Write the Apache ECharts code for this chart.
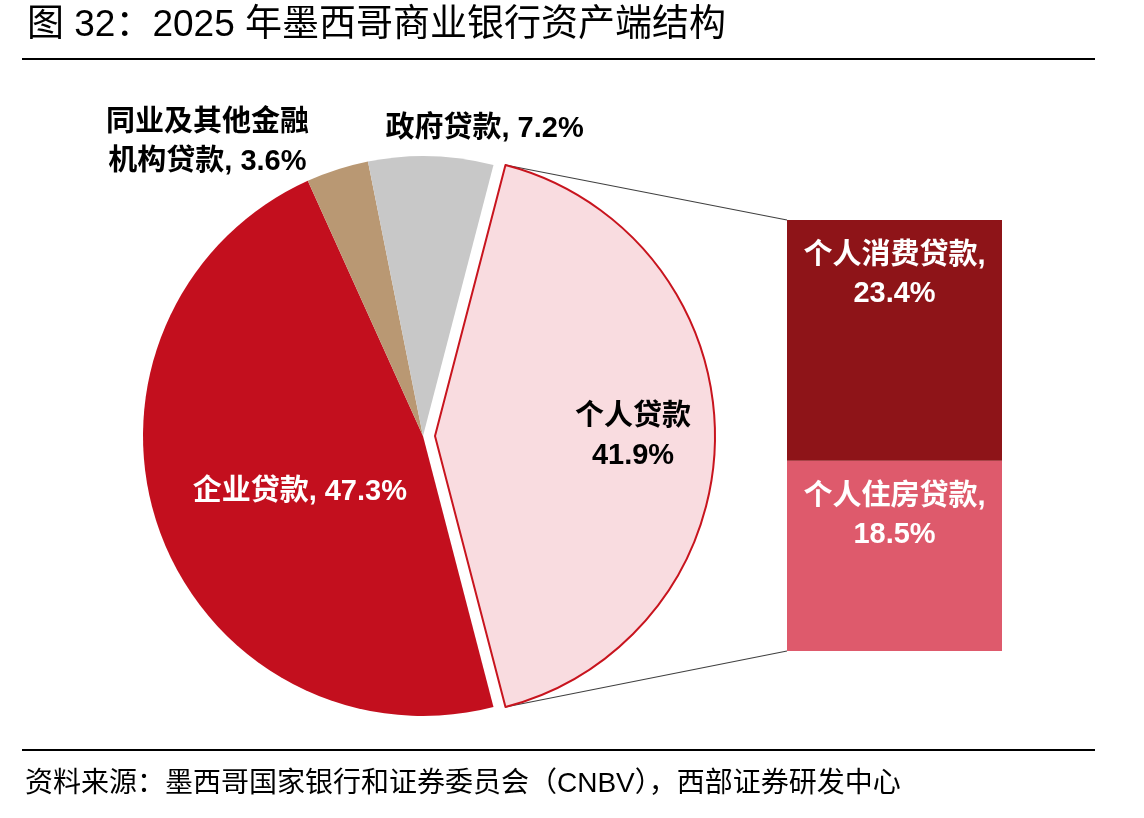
<!DOCTYPE html>
<html><head><meta charset="utf-8">
<script src="https://cdn.jsdelivr.net/npm/echarts@6/dist/echarts.min.js"></script>
<style>html,body{margin:0;padding:0;background:#fff}#c{width:1144px;height:818px}</style>
</head><body><div id="c"></div>
<script>
// ---- data ----
const pieNames = ['个人贷款', '企业贷款', '同业及其他金融机构贷款', '政府贷款'];
const pieValues = [41.9, 47.3, 3.6, 7.2];
const pieLabels = ['个人贷款\n41.9%', '企业贷款, 47.3%', '同业及其他金融\n机构贷款, 3.6%', '政府贷款, 7.2%'];
const barNames = ['个人住房贷款', '个人消费贷款'];
const barValues = [18.5, 23.4];
const barLabels = ['个人住房贷款,\n18.5%', '个人消费贷款,\n23.4%'];
const titleText = '图 32：2025 年墨西哥商业银行资产端结构';
const sourceText = '资料来源：墨西哥国家银行和证券委员会（CNBV），西部证券研发中心';

// ---- layout / style ----
const FONT = "'Liberation Sans','Noto Sans CJK SC',sans-serif";
const CX = 423, CY = 436, R = 280, OFF = 12;
const G = {left: 787, top: 220, width: 215, height: 431};
const pieColors = ['#f9dce0', '#c30f1e', '#b99873', '#c8c8c8'];
const barColors = ['#de5a6c', '#8e1418'];
const labelColors = ['#000', '#fff', '#000', '#000'];
const LFS = 29;

const total = pieValues.reduce((a, b) => a + b, 0);
const startAngle = pieValues[0] / total * 180;
const barTotal = barValues.reduce((a, b) => a + b, 0);

// label anchor positions (relative to pie centre / radius)
const labelPos = [
  [CX + 0.75 * R, CY + 0.003 * R],
  [CX - 0.44 * R, CY + 0.2 * R],
  [CX - 0.77 * R, CY - 1.05 * R],
  [CX + 0.22 * R, CY - 1.095 * R]
];

const chart = echarts.init(document.getElementById('c'), null, {renderer: 'canvas'});

function pieSeries(explodedPart) {
  // explodedPart: true -> only the first slice (shifted); false -> the rest
  return {
    type: 'pie',
    center: explodedPart ? [CX + OFF, CY] : [CX, CY],
    radius: [0, R],
    startAngle: startAngle,
    clockwise: true,
    silent: true,
    emphasis: {disabled: true},
    label: {show: true, position: 'inside', fontFamily: FONT, fontSize: LFS,
      fontWeight: 'bold', lineHeight: 39, align: 'center'},
    labelLine: {show: false},
    labelLayout: function (p) {
      const q = labelPos[p.dataIndex];
      return {x: q[0], y: q[1], align: 'center', verticalAlign: 'middle'};
    },
    data: pieValues.map((v, i) => {
      const visible = explodedPart ? i === 0 : i !== 0;
      return {
        name: pieNames[i],
        value: v,
        itemStyle: visible
          ? (i === 0 ? {color: pieColors[i], borderColor: '#c8141e', borderWidth: 2}
                     : {color: pieColors[i], borderWidth: 0})
          : {color: 'rgba(0,0,0,0)', borderWidth: 0},
        label: visible ? {formatter: pieLabels[i], color: labelColors[i]} : {show: false}
      };
    })
  };
}

chart.setOption({
  animation: false,
  title: [
    {text: titleText, left: 22, top: 2,
      textStyle: {fontFamily: FONT, fontSize: 37, fontWeight: 'normal', color: '#000'}},
    {text: sourceText, left: 20, top: 765,
      textStyle: {fontFamily: FONT, fontSize: 28, fontWeight: 'normal', color: '#000'}}
  ],
  grid: {left: G.left, top: G.top, width: G.width, height: G.height, containLabel: false},
  xAxis: {type: 'category', data: ['个人贷款'], show: false},
  yAxis: {type: 'value', min: 0, max: barTotal, show: false},
  series: [
    pieSeries(false),
    pieSeries(true),
    ...barValues.map((v, i) => ({
      type: 'bar',
      name: barNames[i],
      stack: 'p',
      barWidth: '100%',
      data: [v],
      itemStyle: {color: barColors[i]},
      emphasis: {disabled: true},
      label: {show: true, position: 'insideTop', distance: 17, formatter: barLabels[i],
        color: '#fff', fontFamily: FONT, fontSize: LFS, fontWeight: 'bold', lineHeight: 38}
    }))
  ]
});

// connector lines and rules
const a = startAngle * Math.PI / 180;
const px = CX + OFF + R * Math.cos(a);
const pyTop = CY - R * Math.sin(a);
const pyBot = CY + R * Math.sin(a);
const yTop = chart.convertToPixel({gridIndex: 0}, [0, barTotal])[1];
const yBot = chart.convertToPixel({gridIndex: 0}, [0, 0])[1];
chart.setOption({
  graphic: [
    {type: 'line', shape: {x1: px, y1: pyTop, x2: G.left, y2: yTop}, style: {stroke: '#404040', lineWidth: 1.2}, z: 0},
    {type: 'line', shape: {x1: px, y1: pyBot, x2: G.left, y2: yBot}, style: {stroke: '#404040', lineWidth: 1.2}, z: 0},
    {type: 'line', shape: {x1: 22, y1: 59, x2: 1095, y2: 59}, style: {stroke: '#000', lineWidth: 2}},
    {type: 'line', shape: {x1: 22, y1: 750, x2: 1095, y2: 750}, style: {stroke: '#000', lineWidth: 2}}
  ]
});
</script>
</body></html>
